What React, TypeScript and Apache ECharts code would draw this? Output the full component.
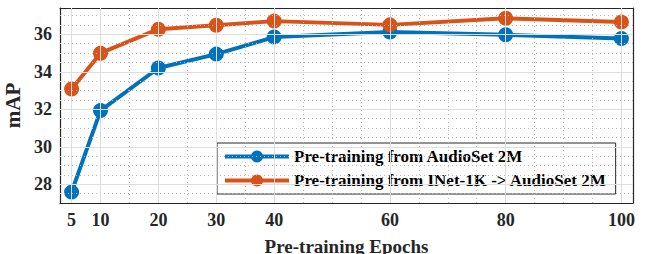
import React, { useEffect, useRef } from "react";
import * as echarts from "echarts";

const epochs = [5, 10, 20, 30, 40, 60, 80, 100];
const audioSet = [27.58, 31.93, 34.2, 34.94, 35.85, 36.12, 35.97, 35.77];
const inetAudioSet = [33.08, 34.99, 36.27, 36.48, 36.7, 36.5, 36.85, 36.65];
const seriesNames = ["Pre-training from AudioSet 2M", "Pre-training from INet-1K -> AudioSet 2M"];
const xTicks = [5, 10, 20, 30, 40, 60, 80, 100];
const yTicks = [28, 30, 32, 34, 36];
const xMinor = [15, 25, 35, 45, 50, 55, 65, 70, 75, 85, 90, 95];
const yMinor = [27.5, 28.5, 29, 29.5, 30.5, 31, 31.5, 32.5, 33, 33.5, 34.5, 35, 35.5, 36.5, 37];

const FONT = "Liberation Serif";
const AX = "#262626";

export default function App() {
  const ref = useRef<HTMLDivElement>(null);
  useEffect(() => {
    if (!ref.current) return;
    const chart = echarts.init(ref.current, null, { renderer: "svg" });
    const pair = (d: number[]) => epochs.map((e, i) => [e, d[i]]);
    const majorGrid = [
      ...xTicks.map((v) => ({ xAxis: v })),
      ...yTicks.map((v) => ({ yAxis: v })),
    ];
    const minorGrid = [
      ...xMinor.map((v) => ({ xAxis: v })),
      ...yMinor.map((v) => ({ yAxis: v })),
    ];
    const axisCommon = {
      type: "value" as const,
      axisLine: { show: true, lineStyle: { color: AX, width: 1.2 } },
      splitLine: { show: false },
    };
    chart.setOption({
      animation: false,
      backgroundColor: "#ffffff",
      grid: {
        left: 60,
        right: 23,
        top: 8,
        bottom: 51,
        containLabel: false,
        outerBoundsMode: "none",
      },
      xAxis: [
        {
          ...axisCommon,
          min: 3,
          max: 102,
          position: "bottom",
          name: "Pre-training Epochs",
          nameLocation: "middle",
          nameGap: 34,
          nameTextStyle: { fontFamily: FONT, fontWeight: "bold", fontSize: 19, color: AX },
          axisTick: { show: true, inside: true, length: 5, customValues: xTicks, lineStyle: { color: AX } },
          axisLabel: {
            customValues: xTicks,
            margin: 8,
            fontFamily: FONT,
            fontWeight: "bold",
            fontSize: 18,
            color: AX,
          },
        },
        {
          ...axisCommon,
          min: 3,
          max: 102,
          position: "top",
          axisTick: { show: true, inside: true, length: 5, customValues: xTicks, lineStyle: { color: AX } },
          axisLabel: { show: false, customValues: xTicks },
        },
      ],
      yAxis: [
        {
          ...axisCommon,
          min: 27,
          max: 37.4,
          position: "left",
          name: "mAP",
          nameLocation: "middle",
          nameGap: 33,
          nameTextStyle: { fontFamily: FONT, fontWeight: "bold", fontSize: 21, color: AX },
          axisTick: { show: true, inside: true, length: 5, customValues: yTicks, lineStyle: { color: AX } },
          axisLabel: {
            customValues: yTicks,
            margin: 8,
            fontFamily: FONT,
            fontWeight: "bold",
            fontSize: 18,
            color: AX,
          },
        },
        {
          ...axisCommon,
          min: 27,
          max: 37.4,
          position: "right",
          axisTick: { show: true, inside: true, length: 5, customValues: yTicks, lineStyle: { color: AX } },
          axisLabel: { show: false, customValues: yTicks },
        },
      ],
      legend: {
        left: 217,
        top: 143,
        orient: "vertical",
        data: seriesNames,
        itemWidth: 64,
        itemHeight: 15,
        itemGap: 7,
        padding: [5, 9, 5, 6],
        borderColor: AX,
        borderWidth: 1,
        backgroundColor: "#ffffff",
        lineStyle: { width: 4 },
        textStyle: { fontFamily: FONT, fontWeight: "bold", fontSize: 17, color: "#000000" },
      },
      series: [
        {
          type: "line",
          name: "gridMinor",
          data: [],
          silent: true,
          z: 0,
          markLine: {
            silent: true,
            symbol: "none",
            label: { show: false },
            lineStyle: { color: "#b8b8b8", type: [1, 3], width: 1 },
            data: minorGrid,
            animation: false,
          },
        },
        {
          type: "line",
          name: "gridMajor",
          data: [],
          silent: true,
          z: 0,
          markLine: {
            silent: true,
            symbol: "none",
            label: { show: false },
            lineStyle: { color: "#dedede", type: "solid", width: 1 },
            data: majorGrid,
            animation: false,
          },
        },
        {
          type: "line",
          name: seriesNames[0],
          data: pair(audioSet),
          color: "#0072BD",
          symbol: "circle",
          symbolSize: 15,
          lineStyle: { width: 4 },
          z: 3,
        },
        {
          type: "line",
          name: seriesNames[1],
          data: pair(inetAudioSet),
          color: "#D95319",
          symbol: "circle",
          symbolSize: 15,
          lineStyle: { width: 4 },
          z: 3,
        },
      ],
    });
    return () => chart.dispose();
  }, []);
  return (
    <div
      ref={ref}
      style={{ position: "absolute", left: 0, top: 0, width: 656, height: 254, overflow: "hidden" }}
    />
  );
}
